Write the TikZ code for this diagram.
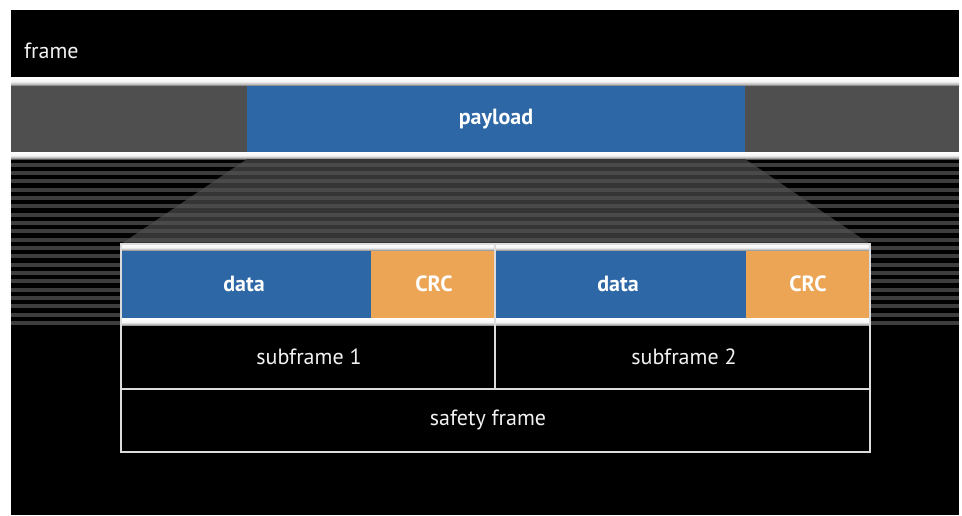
\documentclass[tikz,border=0pt]{standalone}
\usepackage{fontspec}
\setmainfont{PT Sans}
\definecolor{fieldblue}{HTML}{2E67A5}
\definecolor{fieldorange}{HTML}{EBA555}
\definecolor{bandgray}{HTML}{4F4F4F}
\definecolor{stripeout}{HTML}{3D3D3D}
\definecolor{trapbase}{HTML}{353535}
\definecolor{trapstripe}{HTML}{4A4A4A}
\definecolor{linegray}{HTML}{DCDCDC}
\definecolor{labelwhite}{HTML}{F2F2F2}
% white ridge that darkens towards its lower edge
\pgfdeclareverticalshading{bevelshade}{100bp}{%
  color(0bp)=(black!65); color(25bp)=(black!65); color(34bp)=(black!30);
  color(50bp)=(white!96!black); color(75bp)=(white); color(100bp)=(white)}
\tikzset{
  bevel/.style={shading=bevelshade},
  boxline/.style={draw=linegray, line width=1.5pt},
  plainlabel/.style={text=labelwhite, font=\fontsize{22}{25}\selectfont, inner sep=0pt},
  boldlabel/.style={text=white, font=\fontsize{22}{25}\selectfont\bfseries, inner sep=0pt},
}
\begin{document}
\begin{tikzpicture}[x=1pt,y=-1pt]
\useasboundingbox (0,0) rectangle (962,515);
\fill[white] (0,0) rectangle (962,515);
\fill[black] (11,10) rectangle (959,515);

% frame band
\node[plainlabel, anchor=west] (frame) at (24,51) {frame};
\shade[bevel] (11,77) rectangle (959,86);

% payload band
\fill[bandgray] (11,86) rectangle (959,152);
\fill[fieldblue] (247,86) rectangle (745,152);
\node[boldlabel] (payload) at (496,119) {payload};
\shade[bevel] (11,152) rectangle (959,159);

% striped expansion zone
\foreach \k in {0,...,19}
  \fill[stripeout] (11,{162.7+8.33*\k}) rectangle (959,{166.7+8.33*\k});
\fill[trapbase] (247,159) -- (745,159) -- (870,244) -- (121,244) -- cycle;
\begin{scope}
  \clip (247,159) -- (745,159) -- (870,244) -- (121,244) -- cycle;
  \foreach \k in {0,...,19}
    \fill[trapstripe] (11,{162.7+8.33*\k}) rectangle (959,{166.7+8.33*\k});
\end{scope}

% safety frame box
\shade[bevel] (122,244) rectangle (869,251);
\fill[fieldblue] (122,251) rectangle (371,318);
\fill[fieldorange] (371,251) rectangle (494,318);
\fill[fieldblue] (496,251) rectangle (746,318);
\fill[fieldorange] (746,251) rectangle (869,318);
\shade[bevel] (122,318) rectangle (869,326);
\fill[black] (122,326) rectangle (869,452);

\draw[boxline] (121,244) rectangle (870,452);
\draw[boxline] (121,389) -- (870,389);
\draw[boxline] (495,244) -- (495,389);

\node[boldlabel] (data1) at (244,284) {data};
\node[boldlabel] (crc1) at (434,284) {CRC};
\node[boldlabel] (data2) at (618,284) {data};
\node[boldlabel] (crc2) at (808,284) {CRC};
\node[plainlabel] (sub1) at (309,357) {subframe 1};
\node[plainlabel] (sub2) at (684,357) {subframe 2};
\node[plainlabel] (safety) at (488,420) {safety frame};
\end{tikzpicture}
\end{document}
